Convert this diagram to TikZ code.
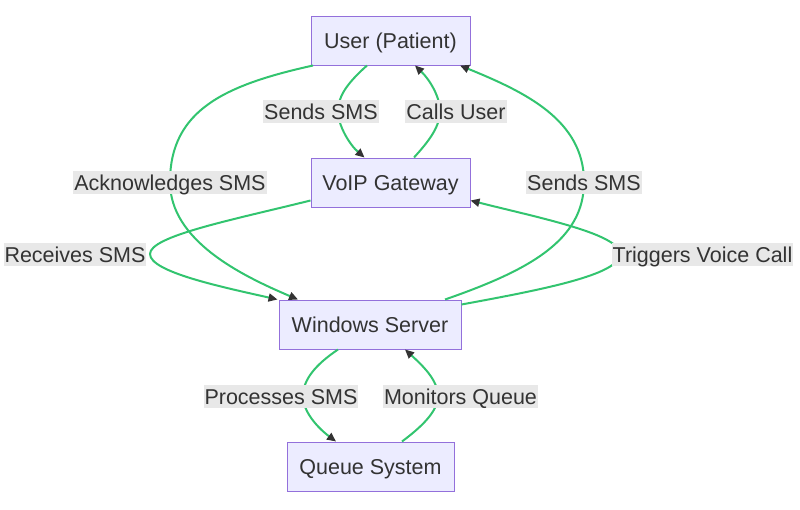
\documentclass[tikz,border=0pt]{standalone}
\usepackage{fontspec}
\setmainfont{Liberation Sans}
\usetikzlibrary{arrows.meta}
\definecolor{nodefill}{HTML}{ECECFF}
\definecolor{nodeline}{HTML}{9370DB}
\definecolor{edgec}{RGB}{50,196,111}
\definecolor{tipc}{HTML}{333333}
\definecolor{txt}{HTML}{333333}
\definecolor{lblfill}{HTML}{E8E8E8}
\tikzset{
  box/.style={draw=nodeline, fill=nodefill, line width=1pt, minimum height=49pt, inner sep=0pt,
    text=txt, font=\fontsize{21.5}{25}\selectfont, text height=15.5pt, text depth=0pt},
  lbl/.style={fill=lblfill, inner xsep=1pt, inner ysep=0pt, minimum height=23pt, text=txt,
    font=\fontsize{21.5}{25}\selectfont, text height=15.5pt, text depth=0pt},
  edge/.style={draw=edgec, line width=2pt, -{Triangle[length=9pt,width=8pt,color=tipc]}}
}
\begin{document}
\begin{tikzpicture}[x=1pt,y=-1pt]
\useasboundingbox (0,0) rectangle (800,509);
\node[box, minimum width=159pt] (u) at (390.5,40.5) {User (Patient)};
\node[box, minimum width=159pt] (g) at (390.5,182.5) {VoIP Gateway};
\node[box, minimum width=182pt] (w) at (370,324.5) {Windows Server};
\node[box, minimum width=167pt] (q) at (370.5,466.5) {Queue System};

% User -> VoIP : Sends SMS
\draw[edge] ([xshift=-23.5pt]u.south) .. controls (345,85) and (338,98) .. (338,111)
  .. controls (338,126) and (350,145) .. ([xshift=-26pt]g.north);
\node[lbl] (l1) at (321,111.5) {Sends SMS};
% VoIP -> User : Calls User
\draw[edge] ([xshift=23.5pt]g.north) .. controls (430,140) and (440,126) .. (440,111)
  .. controls (440,97) and (430,80) .. ([xshift=24.5pt]u.south);
\node[lbl] (l2) at (456,111.5) {Calls User};
% User -> Windows : Acknowledges SMS
\draw[edge] ([xshift=-77.5pt]u.south) .. controls (225,85) and (170,110) .. (170,182)
  .. controls (170,240) and (240,275) .. ([xshift=-72pt]w.north);
\node[lbl] (l3) at (170,182.5) {Acknowledges SMS};
% Windows -> User : Sends SMS
\draw[edge] ([xshift=75pt]w.north) .. controls (530,270) and (584,240) .. (584,182)
  .. controls (584,120) and (525,92) .. ([xshift=69.5pt]u.south);
\node[lbl] (l4) at (584,182.5) {Sends SMS};
% VoIP -> Windows : Receives SMS
\draw[edge] ([yshift=7pt]g.south west) .. controls (232,220) and (150,236) .. (150,254)
  .. controls (150,272) and (222,287) .. ([xshift=-1pt]w.north west);
\node[lbl] (l5) at (75,254.5) {Receives SMS};
% Windows -> VoIP : Triggers Voice Call
\draw[edge] ([yshift=-5pt]w.north east) .. controls (540,290) and (620,275) .. (620,254)
  .. controls (620,234) and (540,218) .. ([yshift=7pt]g.south east);
\node[lbl] (l6) at (702.5,254.5) {Triggers Voice Call};
% Windows -> Queue : Processes SMS
\draw[edge] ([xshift=-32pt]w.south) .. controls (315,365) and (303,380) .. (303,396)
  .. controls (303,412) and (318,428) .. ([xshift=-34.5pt]q.north);
\node[lbl] (l7) at (281,396.5) {Processes SMS};
% Queue -> Windows : Monitors Queue
\draw[edge] ([xshift=31.5pt]q.north) .. controls (420,428) and (438,412) .. (438,396)
  .. controls (438,380) and (422,365) .. ([xshift=35pt]w.south);
\node[lbl] (l8) at (460.5,396.5) {Monitors Queue};
\end{tikzpicture}
\end{document}
